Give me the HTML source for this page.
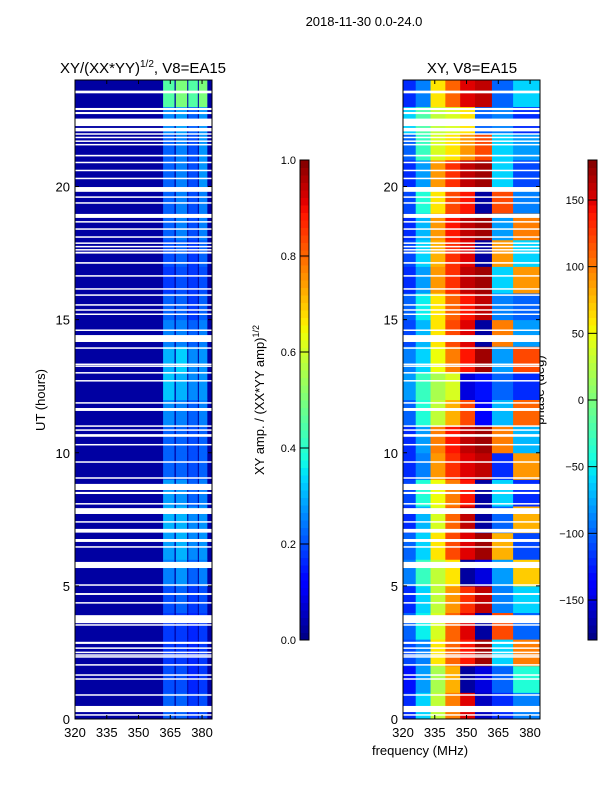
<!DOCTYPE html>
<html><head><meta charset="utf-8">
<style>
body{margin:0;background:#fff;}
svg{display:block;font-family:"Liberation Sans",sans-serif;}
</style></head>
<body>
<svg id="fig" width="600" height="800" xmlns="http://www.w3.org/2000/svg">
<text x="364" y="26" font-size="13" text-anchor="middle">2018-11-30 0.0-24.0</text>
<text x="143" y="73" font-size="15" text-anchor="middle">XY/(XX*YY)<tspan font-size="10" dy="-6">1/2</tspan><tspan dy="6">, V8=EA15</tspan></text>
<text x="472" y="73" font-size="15" text-anchor="middle">XY, V8=EA15</text>
<text transform="translate(45,400) rotate(-90)" font-size="13" text-anchor="middle">UT (hours)</text>
<text transform="translate(264,400) rotate(-90)" font-size="13" text-anchor="middle">XY amp. / (XX*YY amp)<tspan font-size="9" dy="-5">1/2</tspan></text>
<text transform="translate(544,390) rotate(-90)" font-size="13" text-anchor="middle">phase (deg)</text>
<text x="420" y="755" font-size="13" text-anchor="middle">frequency (MHz)</text>
<g id="left"></g>
<g id="right"></g>
<g id="cbars"></g>
</svg>
<script>
const hours = [0,1,2,3,4,5,6,7,8,9,10,11,12,13,14,15,16,17,18,19,20,21,22,23];
const yTicks = [0,5,10,15,20];
const xTicks = [320,335,350,365,380];
const ampTicks = [0.0,0.2,0.4,0.6,0.8,1.0];
const phaseTicks = [-150,-100,-50,0,50,100,150];
const gaps = [[23.5,23.6],[22.87,22.95],[22.72,22.8],[22.27,22.55],[22.07,22.2],[21.95,22.0],[21.82,21.87],[21.68,21.73],[21.55,21.6],[21.13,21.19],[20.88,20.93],[20.58,20.63],[20.28,20.33],[19.8,19.98],[19.58,19.63],[19.36,19.41],[18.82,18.97],[18.65,18.7],[18.38,18.43],[18.08,18.13],[17.85,17.9],[17.72,17.77],[17.6,17.65],[17.48,17.55],[17.1,17.16],[16.62,16.67],[16.13,16.18],[15.9,15.95],[15.53,15.58],[15.34,15.39],[15.18,15.23],[14.58,14.63],[14.16,14.42],[13.91,13.96],[13.31,13.35],[13.24,13.28],[12.98,13.03],[12.68,12.73],[11.85,11.9],[11.57,11.68],[10.98,11.03],[10.83,10.88],[10.6,10.7],[10.28,10.33],[9.63,9.68],[9.03,9.08],[8.6,8.83],[8.45,8.53],[8.06,8.11],[7.7,7.92],[7.38,7.43],[7.0,7.14],[6.65,6.76],[6.44,6.49],[5.67,5.9],[5.01,5.06],[4.66,4.73],[4.34,4.39],[3.6,3.9],[3.51,3.56],[2.82,2.9],[2.64,2.69],[2.48,2.53],[2.38,2.43],[2.31,2.36],[2.01,2.06],[1.63,1.68],[1.48,1.53],[0.88,0.93],[0.26,0.49],[0.13,0.18]];
const bandEdges = [[361.6,367.0],[367.6,373.0],[373.5,378.0],[378.5,382.5]];
const band1 = [0.22,0.2,0.18,0.18,0.2,0.25,0.28,0.3,0.28,0.22,0.22,0.26,0.32,0.3,0.25,0.22,0.18,0.2,0.22,0.22,0.22,0.22,0.26,0.45];
const band2 = [0.22,0.2,0.18,0.18,0.22,0.27,0.3,0.3,0.27,0.22,0.22,0.25,0.3,0.33,0.25,0.22,0.2,0.22,0.25,0.25,0.25,0.25,0.28,0.5];
const band3 = [0.18,0.16,0.16,0.16,0.18,0.22,0.26,0.26,0.22,0.2,0.2,0.22,0.26,0.26,0.22,0.18,0.18,0.18,0.2,0.2,0.2,0.2,0.22,0.45];
const band4 = [0.2,0.18,0.18,0.18,0.2,0.25,0.27,0.27,0.25,0.22,0.22,0.25,0.27,0.27,0.25,0.22,0.2,0.22,0.25,0.25,0.27,0.27,0.27,0.5];
const phaseColEdges = [320,326,333,340,347,354,362,372,384.7];
const colA = [-120,-130,-110,-100,-120,-90,-100,-120,-110,-120,-120,-100,-80,-90,-110,-100,-120,-110,-120,-110,-120,-100,-60,-120];
const colB = [-60,-80,-90,-50,-60,-30,-60,-70,-40,-90,-80,-40,-30,-60,-70,-50,-80,-60,-70,-40,-80,-30,-20,-90];
const colC = [30,20,60,40,30,30,60,40,50,90,100,30,20,50,60,60,90,80,90,60,90,40,30,60];
const colD = [100,80,110,110,90,60,120,110,100,130,140,80,40,100,120,110,130,130,140,120,130,60,40,110];
const colE = [150,-170,140,150,130,-170,150,160,140,150,160,120,-150,140,150,140,160,150,160,140,160,90,60,150];
const colF = [-160,-150,170,-170,160,-150,170,-170,-170,160,170,-140,-130,170,-170,160,170,-170,170,-170,170,120,-100,160];
const colG = [-120,-100,-60,120,-90,-80,80,-100,-60,-120,100,-70,-100,-80,100,-90,-60,90,-80,120,-60,-60,-90,-100];
const colH = [-90,-40,100,-100,-60,70,-110,80,-120,90,-70,110,-120,120,-80,-100,90,-60,100,-90,-110,-80,-120,-60];

const NS='http://www.w3.org/2000/svg';
function interp(pts,v){for(let i=1;i<pts.length;i++){if(v<=pts[i][0]){const a=pts[i-1],b=pts[i];return a[1]+(b[1]-a[1])*(v-a[0])/(b[0]-a[0]);}}return pts[pts.length-1][1];}
const JR=[[0,0],[0.35,0],[0.66,1],[0.89,1],[1,0.5]];
const JG=[[0,0],[0.125,0],[0.375,1],[0.64,1],[0.91,0],[1,0]];
const JB=[[0,0.5],[0.11,1],[0.34,1],[0.65,0],[1,0]];
function jet(v){v=Math.max(0,Math.min(1,v));
  const f=x=>Math.round(255*x);
  return `rgb(${f(interp(JR,v))},${f(interp(JG,v))},${f(interp(JB,v))})`;}
function el(tag,attrs,parent){const e=document.createElementNS(NS,tag);for(const k in attrs)e.setAttribute(k,attrs[k]);parent.appendChild(e);return e;}
const Y0=719, Y1=80, F0=320, F1=384.7;
const yS=h=>Y0+(Y1-Y0)*h/24;
function xS(x0,x1){return f=>x0+(x1-x0)*(f-F0)/(F1-F0);}

function panel(g,x0,x1,fill){
  const xs=xS(x0,x1);
  fill(xs);
  gaps.forEach(gp=>{
    const r=el('rect',{x:x0,y:yS(gp[1]),width:x1-x0,height:Math.max(1.5,yS(gp[0])-yS(gp[1])),fill:'#fff'},g);
    
    
  });
  const fr=el('rect',{x:x0,y:Y1,width:x1-x0,height:Y0-Y1,fill:'none',stroke:'#000','stroke-width':1},g);
  
  
  yTicks.forEach(t=>{
    el('line',{x1:x0,x2:x0+4,y1:yS(t),y2:yS(t),stroke:'#000'},g);
    el('line',{x1:x1,x2:x1-4,y1:yS(t),y2:yS(t),stroke:'#000'},g);
    const tx=el('text',{x:x0-5,y:yS(t)+5,'font-size':13,'text-anchor':'end'},g);tx.textContent=t;
    
    
  });
  xTicks.forEach(t=>{
    el('line',{x1:xs(t),x2:xs(t),y1:Y0,y2:Y0-4,stroke:'#000'},g);
    el('line',{x1:xs(t),x2:xs(t),y1:Y1,y2:Y1+4,stroke:'#000'},g);
    const tx=el('text',{x:xs(t),y:Y0+18,'font-size':13,'text-anchor':'middle'},g);tx.textContent=t;
    
    
  });
}
const L=document.getElementById('left');
panel(L,75,212,xs=>{
  el('rect',{x:75,y:Y1,width:137,height:Y0-Y1,fill:jet(0.03)},L);
  const bands=[band1,band2,band3,band4];
  bands.forEach((arr,bi)=>{
    hours.forEach((h,i)=>{
      const r=el('rect',{x:xs(bandEdges[bi][0]),y:yS(h+1),width:xs(bandEdges[bi][1])-xs(bandEdges[bi][0]),height:yS(h)-yS(h+1)+0.5,fill:jet(arr[i])},L);
      
      
    });
  });
});
const R=document.getElementById('right');
const cols=[colA,colB,colC,colD,colE,colF,colG,colH];
panel(R,403,540,xs=>{
  cols.forEach((arr,ci)=>{
    hours.forEach((h,i)=>{
      const r=el('rect',{x:xs(phaseColEdges[ci]),y:yS(h+1),width:xs(phaseColEdges[ci+1])-xs(phaseColEdges[ci])+0.5,height:yS(h)-yS(h+1)+0.5,fill:jet((arr[i]+180)/360)},R);
      
      
    });
  });
});
const C=document.getElementById('cbars');
function cbar(x,vmin,vmax,ticks,fmt){
  const top=160,bot=640,n=64;
  for(let i=0;i<n;i++){
    el('rect',{x:x,y:bot-(i+1)*(bot-top)/n,width:9,height:(bot-top)/n+0.5,fill:jet((i+0.5)/n)},C);
  }
  const fr=el('rect',{x:x,y:top,width:9,height:bot-top,fill:'none',stroke:'#000'},C);
  
  
  ticks.forEach(t=>{
    const y=bot-(bot-top)*(t-vmin)/(vmax-vmin);
    el('line',{x1:x,x2:x+9,y1:y,y2:y,stroke:'#000'},C);
    const tx=el('text',{x:x-4,y:y+4,'font-size':11,'text-anchor':'end'},C);tx.textContent=fmt(t);
    
    
  });
}
cbar(300,0,1,ampTicks,t=>t.toFixed(1));
cbar(588,-180,180,phaseTicks,t=>t<0?'\u2212'+(-t):String(t));
</script>
</body></html>
